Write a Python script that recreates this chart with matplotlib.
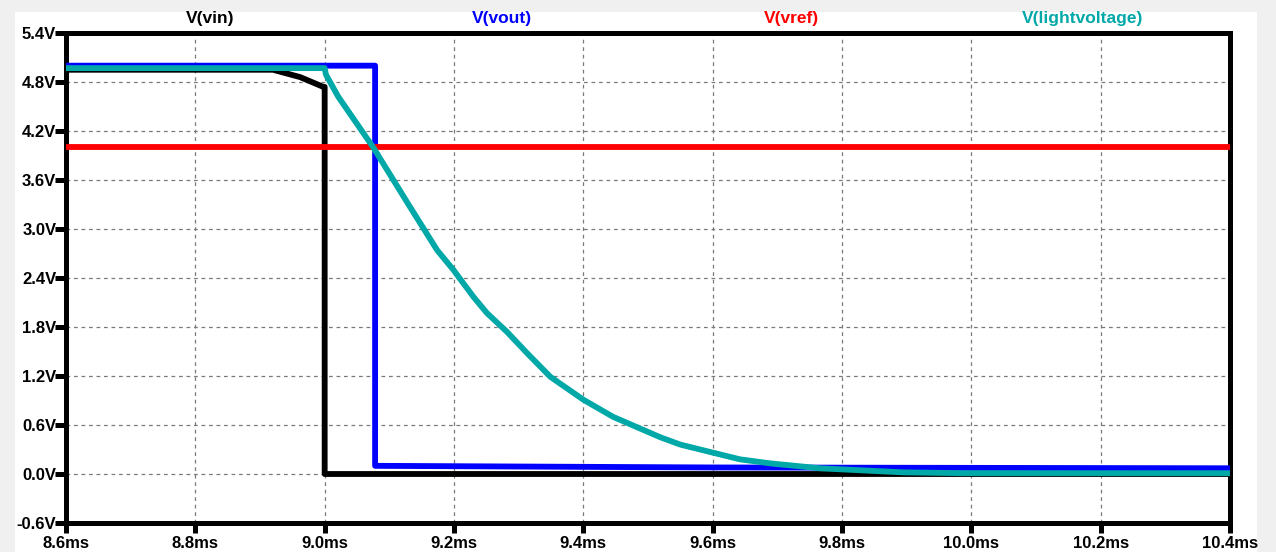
import numpy as np
import matplotlib.pyplot as plt
from matplotlib.patches import Rectangle

plt.rcParams['font.family'] = ['Liberation Sans', 'DejaVu Sans']
plt.rcParams['font.weight'] = 'bold'

## traces (time in ms, volts)
t_vin = [8.6, 8.92, 8.962, 8.998, 9.0, 9.0, 10.4]
v_vin = [4.95, 4.95, 4.86, 4.74, 4.74, 0.0, 0.0]

t_vout = [8.6, 9.078, 9.078, 9.6, 10.4]
v_vout = [5.0, 5.0, 0.10, 0.08, 0.07]

t_vref = [8.6, 10.4]
v_vref = [4.0, 4.0]

t_light = [8.6, 9.0, 9.002, 9.021, 9.075, 9.132, 9.174, 9.199, 9.230, 9.251, 9.282,
           9.313, 9.349, 9.400, 9.446, 9.519, 9.550, 9.601, 9.642, 9.689, 9.766,
           9.817, 9.895, 9.987, 10.4]
v_light = [4.97, 4.97, 4.89, 4.62, 4.00, 3.27, 2.74, 2.50, 2.17, 1.97, 1.74,
           1.48, 1.19, 0.91, 0.70, 0.45, 0.36, 0.26, 0.18, 0.13, 0.07,
           0.05, 0.02, 0.01, 0.01]

trace_names = ['V(vin)', 'V(vout)', 'V(vref)', 'V(lightvoltage)']
trace_colors = ['#000000', '#0000ff', '#ff0000', '#00a8a8']

x_ticks = [8.6, 8.8, 9.0, 9.2, 9.4, 9.6, 9.8, 10.0, 10.2, 10.4]
y_ticks = [-0.6, 0.0, 0.6, 1.2, 1.8, 2.4, 3.0, 3.6, 4.2, 4.8, 5.4]

W, H = 1276, 552
fig = plt.figure(figsize=(W / 100, H / 100), dpi=100, facecolor='#f0f0f0')
# white pane of the waveform window
fig.patches.append(Rectangle((15 / W, 0), (1257 - 15) / W, (H - 12) / H,
                             transform=fig.transFigure, facecolor='white',
                             edgecolor='none', zorder=-1))

ax = fig.add_axes([66 / W, 29 / H, (1230 - 66) / W, (523 - 33) / H])
ax.set_zorder(1)
ax.set_facecolor('white')

series = [(t_vin, v_vin), (t_vout, v_vout), (t_vref, v_vref), (t_light, v_light)]
for (t, v), c in zip(series, trace_colors):
    ax.plot(t, v, color=c, lw=4.2, clip_on=False, zorder=3,
            solid_joinstyle='round', solid_capstyle='butt')

ax.set_xlim(8.6, 10.4)
ax.set_ylim(-0.6, 5.4)
ax.set_xticks(x_ticks)
ax.set_xticklabels(['%.1fms' % x for x in x_ticks])
ax.set_yticks(y_ticks)
ax.set_yticklabels(['%.1fV' % y for y in y_ticks])

ax.grid(True, color='#7a7a7a', lw=0.9, linestyle=(0, (3, 3)))
ax.set_axisbelow(True)
for s in ax.spines.values():
    s.set_linewidth(3.6)
    s.set_color('black')
    s.set_zorder(2.5)

ax.tick_params(axis='y', length=8, width=3.6, pad=-1, labelsize=12)
ax.tick_params(axis='x', length=7, width=3.6, pad=2, labelsize=12)

## trace names across the top
for name, c, xp in zip(trace_names, trace_colors, [210, 502, 791, 1083]):
    fig.text(xp / W, 1 - 18 / H, name, color=c, fontsize=12.5, fontweight='bold',
             ha='center', va='center')

fig.savefig('out.png', dpi=100, facecolor=fig.get_facecolor())
